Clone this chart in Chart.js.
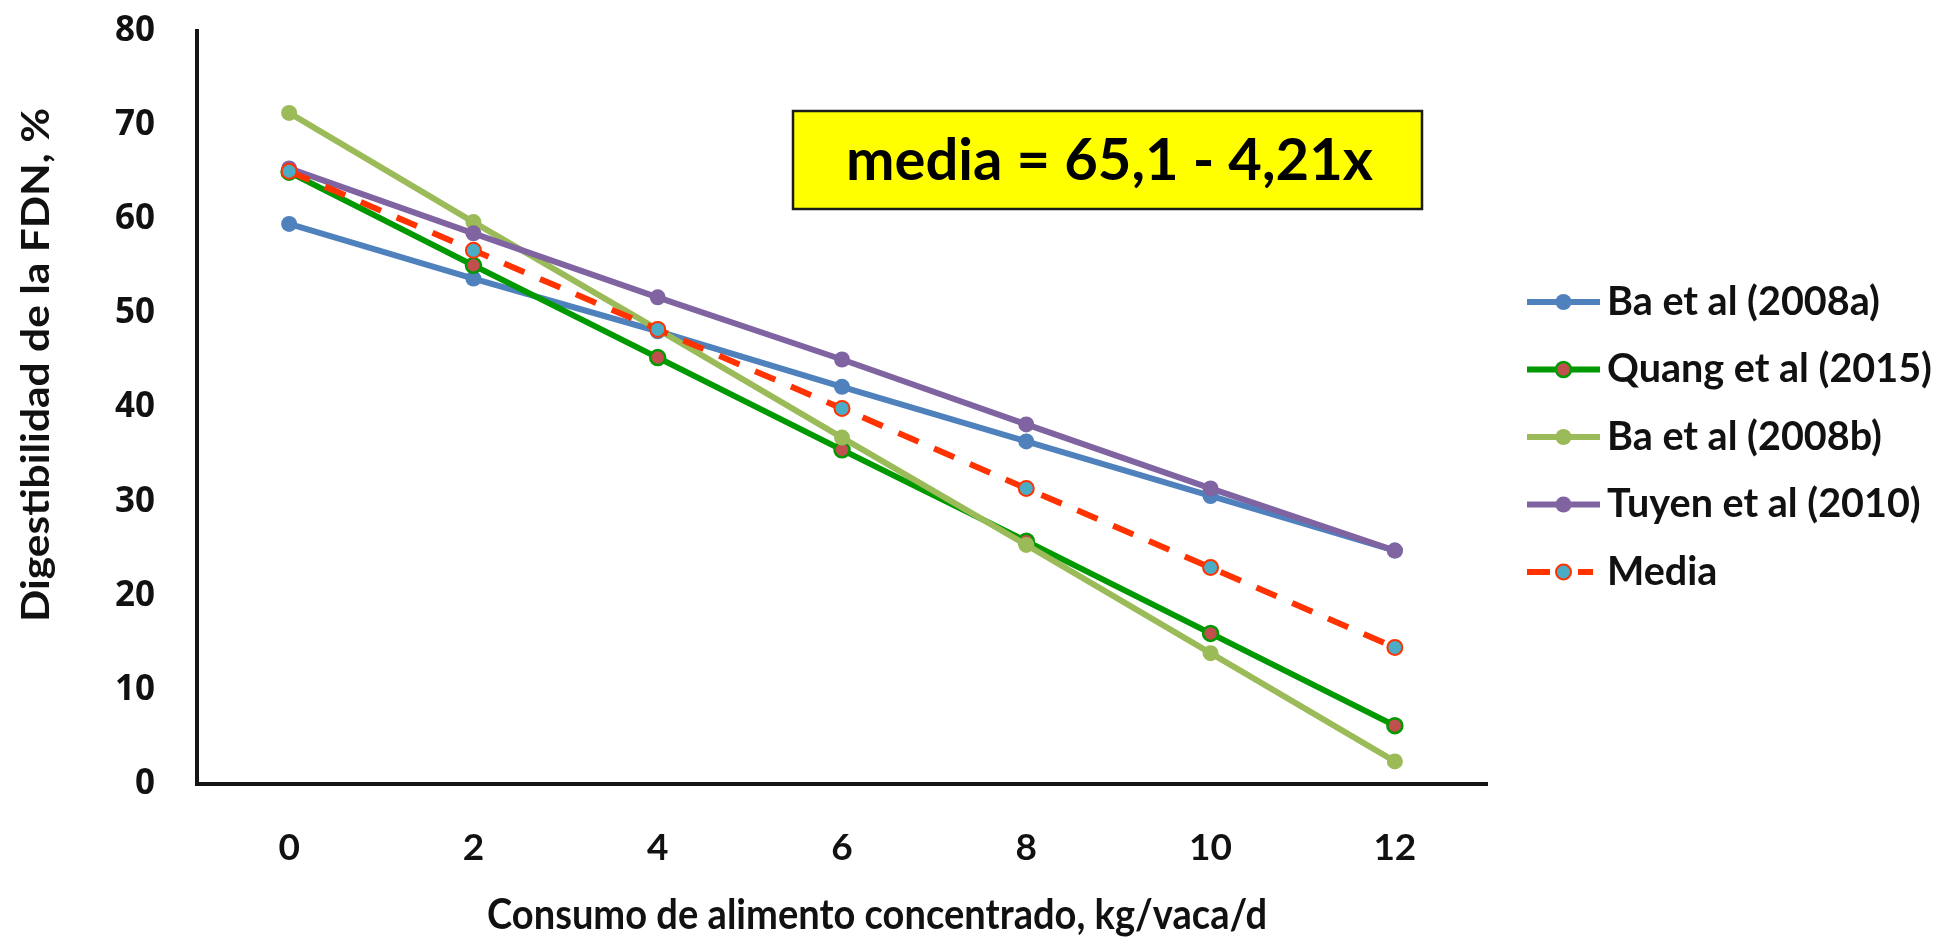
<!DOCTYPE html>
<html>
<head>
<meta charset="utf-8">
<script src="https://cdn.jsdelivr.net/npm/chart.js@4/dist/chart.umd.min.js"></script>
<style>
html,body{margin:0;padding:0;background:#ffffff;overflow:hidden}
#wrap{width:1933px;height:937px;position:relative}
</style>
</head>
<body>
<div id="wrap"><canvas id="c" width="1933" height="937"></canvas></div>
<script>
// ---- data ----
const categories = ['0', '2', '4', '6', '8', '10', '12'];
const seriesNames = ['Ba et al (2008a)', 'Quang et al (2015)', 'Ba et al (2008b)', 'Tuyen et al (2010)', 'Media'];
const ba2008a   = [59.5, 53.7, 48.1, 42.2, 36.4, 30.6, 24.8];
const quang2015 = [65.0, 55.1, 45.3, 35.5, 25.8, 16.0, 6.2];
const ba2008b   = [71.3, 59.7, 48.3, 36.8, 25.4, 13.9, 2.4];
const tuyen2010 = [65.4, 58.5, 51.7, 45.1, 38.2, 31.4, 24.8];
const media     = [65.1, 56.7, 48.3, 39.9, 31.4, 23.0, 14.5];
const yTickValues = [0, 10, 20, 30, 40, 50, 60, 70, 80];
const equationText = 'media = 65,1 - 4,21x';
const xTitleText = 'Consumo de alimento concentrado, kg/vaca/d';
const yTitleText = 'Digestibilidad de la FDN, %';

// ---- styles ----
const TEXT = '#111111';
const TITLE_FONT = 'Lato';

function fitSize(ctx, text, family, target) {
  ctx.save();
  ctx.font = 'bold 100px "' + family + '"';
  const w = ctx.measureText(text).width;
  ctx.restore();
  return 100 * target / w;
}

const decorPlugin = {
  id: 'decor',
  afterDraw(chart) {
    const ctx = chart.ctx;
    // equation box
    ctx.save();
    ctx.fillStyle = '#FFFF00';
    ctx.fillRect(793, 111, 629, 98);
    ctx.lineWidth = 2.5;
    ctx.strokeStyle = '#1a1a1a';
    ctx.strokeRect(793, 111, 629, 98);
    const eqSize = fitSize(ctx, equationText, TITLE_FONT, 527);
    ctx.font = 'bold ' + eqSize + 'px "' + TITLE_FONT + '"';
    ctx.fillStyle = '#000';
    ctx.textAlign = 'center';
    ctx.textBaseline = 'alphabetic';
    ctx.fillText(equationText, 1109.5, 180);
    ctx.restore();

    // x title
    ctx.save();
    ctx.font = 'bold 42px "' + TITLE_FONT + '"';
    let w = ctx.measureText(xTitleText).width;
    ctx.translate(877, 929);
    ctx.scale(780 / w, 1);
    ctx.fillStyle = TEXT;
    ctx.textAlign = 'center';
    ctx.textBaseline = 'alphabetic';
    ctx.fillText(xTitleText, 0, 0);
    ctx.restore();

    // y title
    ctx.save();
    ctx.font = 'bold 39px "' + TITLE_FONT + '"';
    w = ctx.measureText(yTitleText).width;
    ctx.translate(49, 365);
    ctx.rotate(-Math.PI / 2);
    ctx.scale(514 / w, 1);
    ctx.fillStyle = TEXT;
    ctx.textAlign = 'center';
    ctx.textBaseline = 'alphabetic';
    ctx.fillText(yTitleText, 0, 0);
    ctx.restore();

    // legend
    ctx.save();
    const lgSize = fitSize(ctx, chart.data.datasets[0].label, TITLE_FONT, 273);
    chart.data.datasets.forEach((ds, i) => {
      const cy = 302 + i * 67.5;
      ctx.save();
      ctx.strokeStyle = ds.borderColor;
      ctx.lineWidth = ds.borderWidth;
      ctx.lineCap = 'butt';
      ctx.beginPath();
      if (ds.borderDash && ds.borderDash.length) {
        ctx.setLineDash([23, 28]);
        ctx.moveTo(1527, cy); ctx.lineTo(1593, cy);
      } else {
        ctx.moveTo(1527, cy); ctx.lineTo(1600, cy);
      }
      ctx.stroke();
      ctx.setLineDash([]);
      ctx.beginPath();
      ctx.arc(1563.5, cy, ds.pointRadius, 0, Math.PI * 2);
      ctx.fillStyle = ds.pointBackgroundColor;
      ctx.fill();
      if (ds.pointBorderWidth) {
        ctx.lineWidth = ds.pointBorderWidth;
        ctx.strokeStyle = ds.pointBorderColor;
        ctx.stroke();
      }
      ctx.restore();
      ctx.font = 'bold ' + lgSize + 'px "' + TITLE_FONT + '"';
      ctx.fillStyle = TEXT;
      ctx.textAlign = 'left';
      ctx.textBaseline = 'alphabetic';
      ctx.fillText(ds.label, 1607, cy + 12.5);
    });
    ctx.restore();
  }
};

function build() {
  const mk = (label, data, color, opts) => Object.assign({
    label: label,
    data: data,
    borderColor: color,
    backgroundColor: color,
    borderWidth: 6,
    pointRadius: 8,
    pointHoverRadius: 8,
    pointBackgroundColor: color,
    pointBorderColor: color,
    pointBorderWidth: 0,
    tension: 0,
    fill: false
  }, opts || {});

  const datasets = [
    mk(seriesNames[0], ba2008a, '#4F81BD', {order: 5}),
    mk(seriesNames[1], quang2015, '#009A00', {order: 4, pointBackgroundColor: '#C0504D', pointBorderColor: '#009A00', pointBorderWidth: 2.5, pointRadius: 7.5}),
    mk(seriesNames[2], ba2008b, '#9BBB59', {order: 3}),
    mk(seriesNames[3], tuyen2010, '#8064A2', {order: 2}),
    mk(seriesNames[4], media, '#FF3300', {order: 1, borderDash: [22, 17], pointBackgroundColor: '#4BACC6', pointBorderColor: '#FF3300', pointBorderWidth: 2, pointRadius: 7.5})
  ];

  new Chart(document.getElementById('c'), {
    type: 'line',
    data: { labels: categories, datasets: datasets },
    options: {
      responsive: false,
      animation: false,
      devicePixelRatio: 1,
      layout: { padding: { left: 115, right: 446, top: 31, bottom: 0 } },
      plugins: {
        legend: { display: false },
        tooltip: { enabled: false },
        title: { display: false }
      },
      scales: {
        x: {
          type: 'category',
          offset: true,
          grid: { display: false, drawTicks: false },
          border: { display: true, color: '#151515', width: 4 },
          ticks: {
            color: TEXT,
            padding: 42,
            font: { family: 'Lato', weight: 'bold', size: 37 },
            maxRotation: 0
          },
          afterFit(s) { s.height = 153; s.paddingTop = 0; s.paddingBottom = 0; }
        },
        y: {
          type: 'linear',
          min: 0,
          max: 80,
          afterBuildTicks(s) { s.ticks = yTickValues.map(v => ({ value: v })); },
          grid: { display: false, drawTicks: false },
          border: { display: true, color: '#151515', width: 4 },
          ticks: {
            color: TEXT,
            padding: 42,
            font: { family: 'Open Sans', weight: 'bold', size: 35 }
          },
          afterFit(s) { s.width = 82; s.paddingTop = 0; s.paddingBottom = 0; }
        }
      }
    },
    plugins: [decorPlugin]
  });
}

const loads = ['bold 40px "Lato"', 'bold 35px "Open Sans"'];
Promise.all(loads.map(f => document.fonts.load(f).catch(() => null))).then(build, build);
</script>
</body>
</html>
